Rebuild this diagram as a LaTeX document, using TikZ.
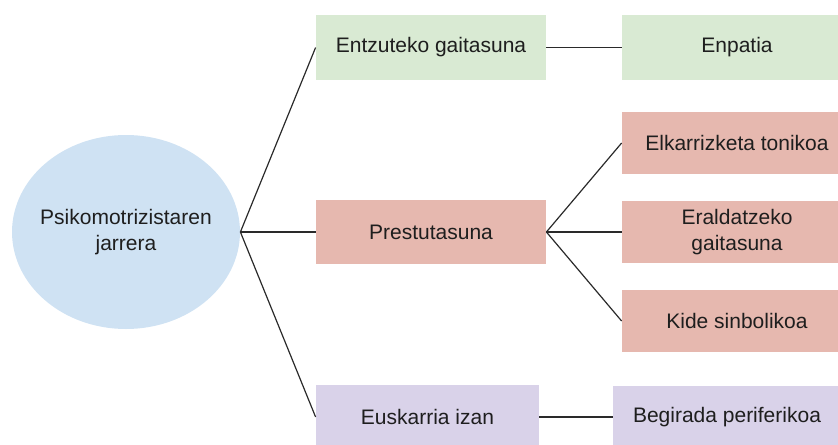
\documentclass[tikz,border=0pt]{standalone}
\usepackage{fontspec}
\setmainfont{Liberation Sans}
\usepackage{tikz}
\usetikzlibrary{shapes.geometric}
\definecolor{lblue}{HTML}{CFE2F3}
\definecolor{lgreen}{HTML}{D9EAD3}
\definecolor{lred}{HTML}{E6B8AF}
\definecolor{lpurple}{HTML}{D9D2E9}
\definecolor{txt}{HTML}{1E1E1E}
\definecolor{lnk}{HTML}{2A2A2A}

\begin{document}
\begin{tikzpicture}[x=0.5pt,y=-0.5pt,font=\fontsize{10.5}{12.6}\selectfont,
		box/.style={rectangle,inner sep=0pt,align=center,text=txt},
		link/.style={draw=lnk,line width=0.6pt}]
					\useasboundingbox (0,0) rectangle (838,444);
					\clip (0,0) rectangle (838,444);
					\node[ellipse,fill=lblue,inner sep=0pt,minimum width=114pt,minimum height=97pt] (root) at (126,232) {};
					\node[align=center,text=txt] (rootlabel) at (root) {Psikomotrizistaren\\jarrera};
					\foreach \name/\x/\y/\w/\h/\col/\label in {
							ent/431/47.5/230/65/lgreen/{Entzuteko gaitasuna},
							pre/431/232/230/64/lred/{Prestutasuna},
							eus/427.5/417/223/64/lpurple/{Euskarria izan},
							enp/737/47.5/230/65/lgreen/{Enpatia},
							elk/737/143/230/62/lred/{Elkarrizketa tonikoa},
							era/737/232/230/62/lred/{Eraldatzeko\\gaitasuna},
							kid/737/321/230/62/lred/{Kide sinbolikoa},
							beg/727/417/228/62/lpurple/{Begirada periferikoa}} {
						\node[box,fill=\col,minimum width=\w*0.5pt,minimum height=\h*0.5pt] (\name) at (\x,\y) {\label};
					}
					\foreach \a/\b in {root/ent, root/pre, root/eus, ent/enp, pre/elk, pre/era, pre/kid, eus/beg} {
						\draw[link] (\a.east) -- (\b.west);
					}
				\end{tikzpicture}
\end{document}
